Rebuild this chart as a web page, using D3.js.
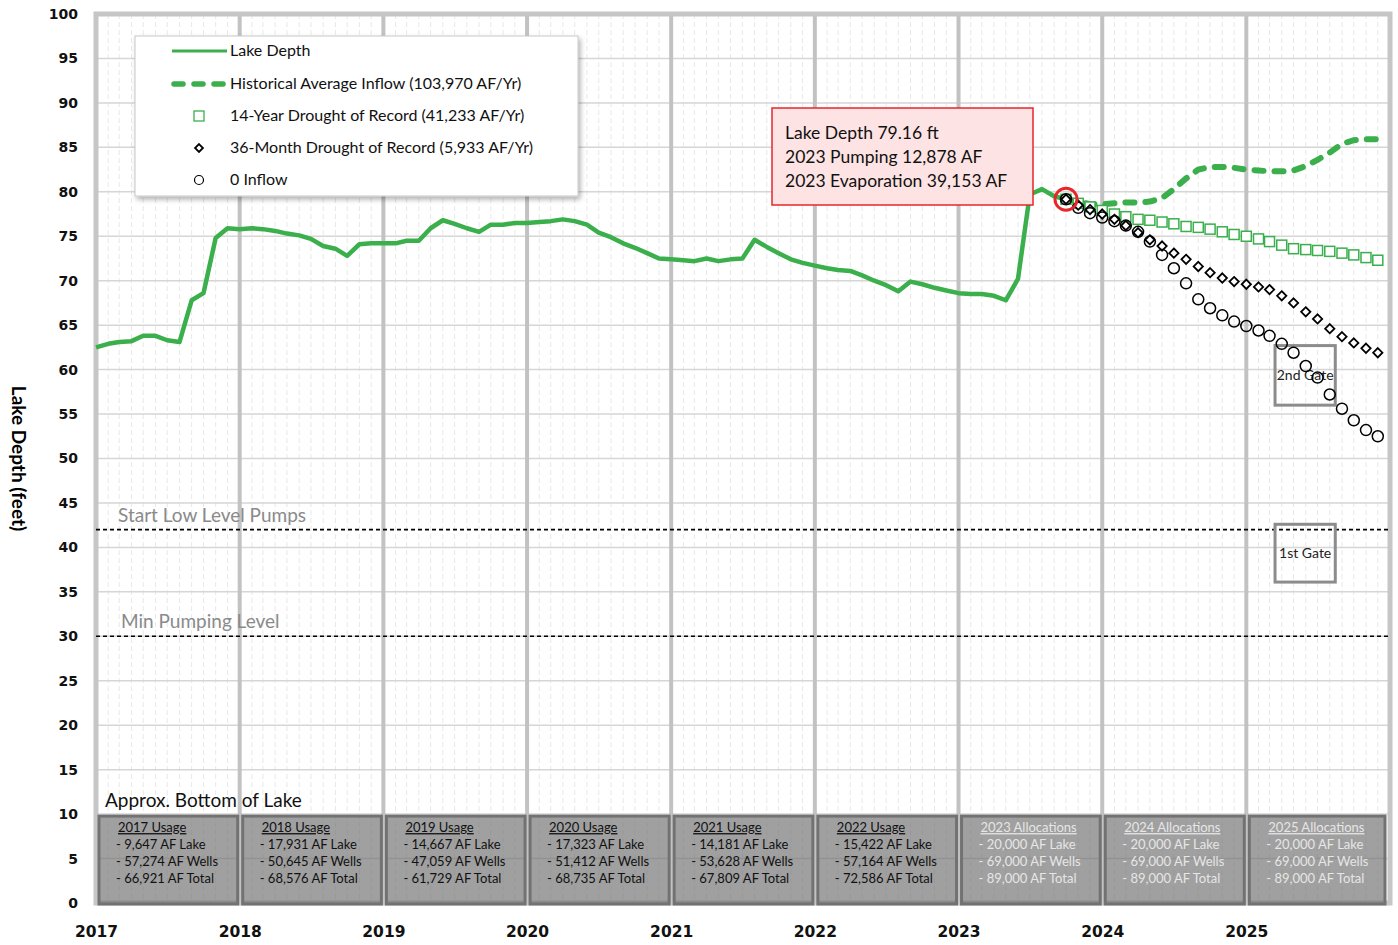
<!DOCTYPE html>
<html>
<head>
<meta charset="utf-8">
<script src="https://cdn.jsdelivr.net/npm/d3@7"></script>
<style>
  body { margin: 0; background: #fff; }
  text { font-family: Lato, "Open Sans", sans-serif; }
</style>
</head>
<body>
<div id="chart"></div>
<script>
// monthly lake depth, Jan 2017 .. Oct 2023
const lakeStart = [2017, 0];
const lakeDepth = [
  62.5, 62.9, 63.1, 63.2, 63.8, 63.8, 63.3, 63.1, 67.8, 68.6, 74.8, 75.9,
  75.8, 75.9, 75.8, 75.6, 75.3, 75.1, 74.7, 73.9, 73.6, 72.8, 74.1, 74.2,
  74.2, 74.2, 74.5, 74.5, 75.9, 76.8, 76.4, 75.9, 75.5, 76.3, 76.3, 76.5,
  76.5, 76.6, 76.7, 76.9, 76.7, 76.3, 75.4, 74.9, 74.2, 73.7, 73.1, 72.5,
  72.4, 72.3, 72.2, 72.5, 72.2, 72.4, 72.5, 74.6, 73.8, 73.1, 72.4, 72.0,
  71.7, 71.4, 71.2, 71.1, 70.6, 70.0, 69.5, 68.8, 69.9, 69.6, 69.2, 68.9,
  68.6, 68.5, 68.5, 68.3, 67.8, 70.2, 79.7, 80.3, 79.5, 79.16
];

// projections, Oct 2023 .. Dec 2025
const projStart = [2023, 9];
const histAvg = [
  79.16, 78.9, 78.6, 78.6, 78.7, 78.8, 78.8, 78.9, 79.3, 80.3, 81.5, 82.5, 82.8, 82.8,
  82.7, 82.5, 82.4, 82.3, 82.3, 82.4, 82.9, 83.6, 84.4, 85.4, 85.8, 85.9, 85.9
];
const drought14 = [
  79.16, 78.7, 78.3, 77.9, 77.5, 77.2, 76.9, 76.8, 76.6, 76.4, 76.1, 76.0, 75.8, 75.5,
  75.2, 75.0, 74.7, 74.4, 74.0, 73.6, 73.5, 73.4, 73.3, 73.1, 72.9, 72.6, 72.3
];
const drought36 = [
  79.16, 78.5, 78.0, 77.5, 76.9, 76.2, 75.4, 74.6, 73.9, 73.1, 72.4, 71.6, 70.9, 70.3,
  69.9, 69.6, 69.3, 69.0, 68.3, 67.5, 66.5, 65.7, 64.6, 63.7, 63.0, 62.4, 61.9
];
const zeroInflow = [
  79.16, 78.2, 77.6, 77.1, 76.7, 76.2, 75.5, 74.4, 72.9, 71.4, 69.7, 67.9, 66.9, 66.1,
  65.4, 64.9, 64.4, 63.8, 62.9, 61.9, 60.4, 59.1, 57.2, 55.6, 54.3, 53.2, 52.5
];

const yearTicks = [2017, 2018, 2019, 2020, 2021, 2022, 2023, 2024, 2025];
const levelValues = [42, 30];
const levelLabels = ["Start Low Level Pumps", "Min Pumping Level"];

const usageTitles = ["2017 Usage", "2018 Usage", "2019 Usage", "2020 Usage", "2021 Usage",
  "2022 Usage", "2023 Allocations", "2024 Allocations", "2025 Allocations"];
const usageLake = ["9,647", "17,931", "14,667", "17,323", "14,181", "15,422", "20,000", "20,000", "20,000"];
const usageWells = ["57,274", "50,645", "47,059", "51,412", "53,628", "57,164", "69,000", "69,000", "69,000"];
const usageTotal = ["66,921", "68,576", "61,729", "68,735", "67,809", "72,586", "89,000", "89,000", "89,000"];

const gateNames = ["2nd Gate", "1st Gate"];
const gateTop = [62.7, 42.6];
const gateBottom = [56.0, 36.1];

const annoLines = ["Lake Depth 79.16 ft", "2023 Pumping 12,878 AF", "2023 Evaporation 39,153 AF"];

const green = "#3aaf4c";

const margin = {top: 14, right: 8, bottom: 42, left: 96},
  width = 1398 - margin.left - margin.right,
  height = 945 - margin.top - margin.bottom;

const svg = d3.select("#chart").append("svg")
  .attr("width", 1398).attr("height", 945);

const defs = svg.append("defs");
const sh = defs.append("filter").attr("id", "shadow").attr("x", "-5%").attr("y", "-5%")
  .attr("width", "115%").attr("height", "125%");
sh.append("feDropShadow").attr("dx", 2).attr("dy", 3).attr("stdDeviation", 2.5)
  .attr("flood-color", "#000").attr("flood-opacity", 0.3);

const g = svg.append("g").attr("transform", `translate(${margin.left},${margin.top})`);

const x = d3.scaleTime()
  .domain([new Date(2017, 0, 1), new Date(2026, 0, 1)])
  .range([0, width]);
const y = d3.scaleLinear().domain([0, 100]).range([height, 0]);

const monthDate = (start, i) => new Date(start[0], start[1] + i, 1);

// grid
g.append("g").selectAll("line")
  .data(d3.timeMonth.range(x.domain()[0], x.domain()[1]))
  .join("line")
  .attr("x1", d => x(d)).attr("x2", d => x(d))
  .attr("y1", 0).attr("y2", height)
  .attr("stroke", "#e8e8e8").attr("stroke-width", 1).attr("stroke-dasharray", "5,3");

g.append("g").selectAll("line")
  .data(d3.range(5, 100, 5))
  .join("line")
  .attr("x1", 0).attr("x2", width)
  .attr("y1", d => y(d)).attr("y2", d => y(d))
  .attr("stroke", "#d6d6d6").attr("stroke-width", 1.5);

g.append("g").selectAll("line")
  .data(yearTicks.slice(1))
  .join("line")
  .attr("x1", d => x(new Date(d, 0, 1))).attr("x2", d => x(new Date(d, 0, 1)))
  .attr("y1", 0).attr("y2", height)
  .attr("stroke", "#c2c2c2").attr("stroke-width", 4);

g.append("rect").attr("width", width).attr("height", height)
  .attr("fill", "none").attr("stroke", "#c6c6c6").attr("stroke-width", 5);

// axes
const yAxis = g.append("g")
  .call(d3.axisLeft(y).tickValues(d3.range(0, 101, 5)).tickSize(0).tickPadding(18));
yAxis.select(".domain").remove();
yAxis.selectAll("text")
  .style("font-family", "'DejaVu Sans', sans-serif")
  .style("font-weight", "bold").style("font-size", "14px").attr("fill", "#111");

const xAxis = g.append("g").attr("transform", `translate(0,${height})`)
  .call(d3.axisBottom(x).tickValues(yearTicks.map(d => new Date(d, 0, 1)))
    .tickFormat(d3.timeFormat("%Y")).tickSize(0).tickPadding(23));
xAxis.select(".domain").remove();
xAxis.selectAll("text")
  .style("font-family", "'DejaVu Sans', sans-serif")
  .style("font-weight", "bold").style("font-size", "15.5px").attr("fill", "#111");

svg.append("text")
  .attr("transform", `translate(12,${margin.top + y(50)}) rotate(90)`)
  .attr("text-anchor", "middle")
  .style("font-weight", "bold").style("font-size", "19px")
  .text("Lake Depth (feet)");

// level lines
g.append("g").selectAll("line")
  .data(levelValues)
  .join("line")
  .attr("x1", 0).attr("x2", x(new Date(2025, 11, 31)))
  .attr("y1", d => y(d)).attr("y2", d => y(d))
  .attr("stroke", "#000").attr("stroke-width", 1.6).attr("stroke-dasharray", "4,3");

g.append("g").selectAll("text")
  .data(levelValues)
  .join("text")
  .attr("x", (d, i) => 22 + i * 3).attr("y", d => y(d) - 8)
  .attr("fill", "#8a8a8a").style("font-size", "19px")
  .text((d, i) => levelLabels[i]);

// usage boxes
g.append("text").attr("x", 9).attr("y", y(10) - 7)
  .style("font-size", "19px").attr("fill", "#111").text("Approx. Bottom of Lake");

const usage = g.append("g").selectAll("g")
  .data(yearTicks)
  .join("g")
  .attr("transform", d => `translate(${x(new Date(d, 0, 1))},${y(10)})`);

usage.append("rect")
  .attr("x", 3)
  .attr("y", 2)
  .attr("width", d => x(new Date(d + 1, 0, 1)) - x(new Date(d, 0, 1)) - (d === 2025 ? 8 : 5))
  .attr("height", y(0) - y(10) - 1)
  .attr("fill", "#6f6f6f").attr("fill-opacity", 0.66)
  .attr("stroke", "#727272").attr("stroke-width", 3);

const usageText = usage.append("text")
  .attr("fill", (d, i) => i >= 6 ? "#e6e6e6" : "#111")
  .style("font-size", "13px");
usageText.append("tspan").attr("x", 22).attr("y", 18)
  .style("text-decoration", "underline").text((d, i) => usageTitles[i]);
usageText.append("tspan").attr("x", 20).attr("dy", 17).text((d, i) => `- ${usageLake[i]} AF Lake`);
usageText.append("tspan").attr("x", 20).attr("dy", 17).text((d, i) => `- ${usageWells[i]} AF Wells`);
usageText.append("tspan").attr("x", 20).attr("dy", 17).text((d, i) => `- ${usageTotal[i]} AF Total`);

// gate boxes
const gates = g.append("g").selectAll("g")
  .data(gateNames)
  .join("g");
gates.append("rect")
  .attr("x", x(new Date(2025, 2, 15))).attr("y", (d, i) => y(gateTop[i]))
  .attr("width", x(new Date(2025, 7, 15)) - x(new Date(2025, 2, 15)))
  .attr("height", (d, i) => y(gateBottom[i]) - y(gateTop[i]))
  .attr("fill", "none").attr("stroke", "#8c8c8c").attr("stroke-width", 3);
gates.append("text")
  .attr("x", (x(new Date(2025, 2, 15)) + x(new Date(2025, 7, 15))) / 2)
  .attr("y", (d, i) => y((gateTop[i] + gateBottom[i]) / 2) + 5)
  .attr("text-anchor", "middle").style("font-size", "14px").attr("fill", "#222")
  .text(d => d);

// lake depth line
const line = d3.line().x(d => x(d.date)).y(d => y(d.v));
const lakeData = lakeDepth.map((v, i) => ({date: monthDate(lakeStart, i), v}));
g.append("path").datum(lakeData)
  .attr("d", line).attr("fill", "none")
  .attr("stroke", green).attr("stroke-width", 4.5).attr("stroke-linejoin", "round");

const toPts = arr => arr.map((v, i) => ({date: monthDate(projStart, i), v}));

g.append("path").datum(toPts(histAvg))
  .attr("d", line).attr("fill", "none")
  .attr("stroke", green).attr("stroke-width", 6)
  .attr("stroke-dasharray", "9,11").attr("stroke-linecap", "round");

g.append("g").selectAll("rect")
  .data(toPts(drought14))
  .join("rect")
  .attr("x", d => x(d.date) - 5).attr("y", d => y(d.v) - 5)
  .attr("width", 10).attr("height", 10)
  .attr("fill", "#fff").attr("stroke", green).attr("stroke-width", 1.5);

const diamond = d3.symbol().type(d3.symbolDiamond2).size(55);
g.append("g").selectAll("path")
  .data(toPts(drought36))
  .join("path")
  .attr("transform", d => `translate(${x(d.date)},${y(d.v)})`)
  .attr("d", diamond)
  .attr("fill", "#fff").attr("stroke", "#000").attr("stroke-width", 1.8);

g.append("g").selectAll("circle")
  .data(toPts(zeroInflow))
  .join("circle")
  .attr("cx", d => x(d.date)).attr("cy", d => y(d.v)).attr("r", 5.5)
  .attr("fill", "none").attr("stroke", "#000").attr("stroke-width", 1.5);

// current level marker
g.append("circle")
  .attr("cx", x(monthDate(projStart, 0))).attr("cy", y(zeroInflow[0])).attr("r", 11)
  .attr("fill", "none").attr("stroke", "#e8262b").attr("stroke-width", 3);

// annotation box
const anno = svg.append("g").attr("transform", "translate(772,108)");
anno.append("rect").attr("width", 261).attr("height", 97)
  .attr("fill", "#fde3e3").attr("stroke", "#e8262b").attr("stroke-width", 1.5);
anno.selectAll("text").data(annoLines).join("text")
  .attr("x", 13).attr("y", (d, i) => 31 + i * 24)
  .style("font-size", "17.5px").attr("fill", "#111").text(d => d);

// legend
const legend = svg.append("g").attr("transform", "translate(135,36)");
legend.append("rect").attr("width", 443).attr("height", 160)
  .attr("fill", "#fff").attr("stroke", "#c8c8c8").attr("stroke-width", 1)
  .attr("filter", "url(#shadow)");
const legY = [15, 48, 80, 112, 144];
const legLabels = ["Lake Depth", "Historical Average Inflow (103,970 AF/Yr)",
  "14-Year Drought of Record (41,233 AF/Yr)", "36-Month Drought of Record (5,933 AF/Yr)", "0 Inflow"];
legend.append("line").attr("x1", 37).attr("x2", 92).attr("y1", legY[0]).attr("y2", legY[0])
  .attr("stroke", green).attr("stroke-width", 3);
legend.append("line").attr("x1", 39).attr("x2", 92).attr("y1", legY[1]).attr("y2", legY[1])
  .attr("stroke", green).attr("stroke-width", 5.5)
  .attr("stroke-dasharray", "9,11").attr("stroke-linecap", "round");
legend.append("rect").attr("x", 59).attr("y", legY[2] - 5).attr("width", 10).attr("height", 10)
  .attr("fill", "#fff").attr("stroke", green).attr("stroke-width", 1.3);
legend.append("path").attr("transform", `translate(64,${legY[3]})`)
  .attr("d", d3.symbol().type(d3.symbolDiamond2).size(40))
  .attr("fill", "#fff").attr("stroke", "#000").attr("stroke-width", 1.8);
legend.append("circle").attr("cx", 64).attr("cy", legY[4]).attr("r", 4.5)
  .attr("fill", "#fff").attr("stroke", "#000").attr("stroke-width", 1.2);
legend.selectAll("text.lab").data(legLabels).join("text").attr("class", "lab")
  .attr("x", 95).attr("y", (d, i) => legY[i] + 5)
  .style("font-size", "16px").attr("fill", "#111").text(d => d);
</script>
</body>
</html>
